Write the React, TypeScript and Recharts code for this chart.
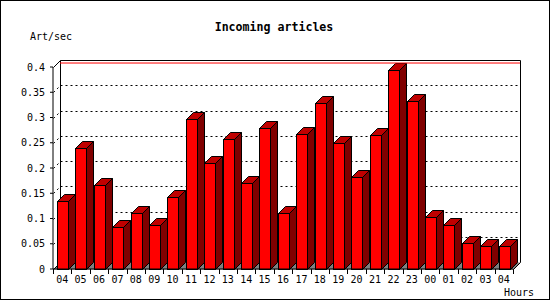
import { BarChart, Bar, XAxis, YAxis, CartesianGrid, ReferenceArea, ReferenceLine } from 'recharts'

const hours = ['04', '05', '06', '07', '08', '09', '10', '11', '12', '13', '14', '15', '16', '17', '18', '19', '20', '21', '22', '23', '00', '01', '02', '03', '04']
const artPerSec = [0.135, 0.24, 0.166, 0.083, 0.11, 0.088, 0.142, 0.297, 0.21, 0.257, 0.17, 0.279, 0.11, 0.267, 0.328, 0.249, 0.182, 0.265, 0.394, 0.332, 0.102, 0.088, 0.051, 0.045, 0.045]
const yTicks = [0, 0.05, 0.1, 0.15, 0.2, 0.25, 0.3, 0.35, 0.4]

const data = hours.map((hour, i) => ({ hour, rate: artPerSec[i] }))
const peak = Math.max(...artPerSec)

const D = 7 // depth of the 3d effect
const MONO = '"DejaVu Sans Mono", monospace'
const px = (v: number) => Math.round(v) + 0.5

// eslint-disable-next-line @typescript-eslint/no-explicit-any
function Bar3D(props: any) {
  const { x, y, width, height } = props
  if (!height) return <g />
  const x0 = px(x)
  const y0 = px(y)
  const x1 = x0 + Math.round(width)
  const y1 = px(y + height)
  return (
    <g stroke="#000" strokeWidth={1}>
      <polygon points={`${x0},${y0} ${x0 + D},${y0 - D} ${x1 + D},${y0 - D} ${x1},${y0}`} fill="#c00000" />
      <polygon points={`${x1},${y0} ${x1 + D},${y0 - D} ${x1 + D},${y1 - D} ${x1},${y1}`} fill="#800000" />
      <rect x={x0} y={y0} width={x1 - x0} height={y1 - y0} fill="#ff0000" />
    </g>
  )
}

// back walls + floor
// eslint-disable-next-line @typescript-eslint/no-explicit-any
function Walls(props: any) {
  const { x, y, width, height } = props
  const l = px(x)
  const t = px(Math.min(y, y + height))
  const r = px(x + width)
  const b = px(Math.max(y, y + height))
  return (
    <g>
      <polygon points={`${l},${b} ${l + D},${b - D} ${r + D},${b - D} ${r},${b}`} fill="#808080" />
      <polyline points={`${l},${t} ${l + D},${t - D} ${r + D},${t - D} ${r + D},${b - D} ${r},${b}`} fill="none" stroke="#000" />
      <line x1={l + D} y1={t - D} x2={l + D} y2={b - D} stroke="#000" />
      <line x1={l} y1={b} x2={l + D} y2={b - D} stroke="#000" />
    </g>
  )
}

// eslint-disable-next-line @typescript-eslint/no-explicit-any
function GridLine(props: any) {
  const { x1, y1, x2, y, height } = props
  if (y !== undefined && height !== undefined && (y1 > y + height - 1 || y1 < y + 1)) return <g />
  const gy = px(y1)
  return (
    <g stroke="#000" strokeDasharray="2 3" fill="none">
      <line x1={px(x1)} y1={gy} x2={px(x1) + D} y2={gy - D} />
      <line x1={px(x1) + D} y1={gy - D} x2={px(x2) + D} y2={gy - D} />
    </g>
  )
}

// eslint-disable-next-line @typescript-eslint/no-explicit-any
function HourTick(props: any) {
  const { x, y, payload, index, visibleTicksCount, width } = props
  const half = payload?.offset || width / visibleTicksCount / 2
  const axisY = y - 6
  const left = px(x - half)
  const right = px(x + half)
  return (
    <g>
      <line x1={left} y1={axisY} x2={left} y2={axisY + 5} stroke="#000" />
      {index === visibleTicksCount - 1 && <line x1={right} y1={axisY} x2={right} y2={axisY + 5} stroke="#000" />}
      <text x={x} y={y + 1} dy="0.71em" textAnchor="middle" fontSize={10} fontFamily={MONO} fill="#000">
        {payload.value}
      </text>
    </g>
  )
}

export default function App() {
  return (
    <div style={{ position: 'absolute', left: 0, top: 0, width: 550, height: 300, background: '#fff' }}>
      <BarChart width={550} height={300} data={data} margin={{ top: 67, right: 37, left: 0, bottom: 0 }}>
        <ReferenceArea y1={0} y2={0.4} shape={Walls} ifOverflow="visible" />
        <CartesianGrid horizontal={GridLine} vertical={false} />
        {/* max value line, pushed back onto the rear wall */}
        <ReferenceLine y={peak} stroke="#ff0000" strokeWidth={1} ifOverflow="visible" transform={`translate(${D},${-D})`} />
        <XAxis
          dataKey="hour"
          height={31}
          tickSize={4}
          tickMargin={2}
          tickLine={false}
          axisLine={{ stroke: '#000' }}
          interval={0}
          tick={HourTick}
        />
        <YAxis
          type="number"
          width={53}
          domain={[0, 0.4]}
          ticks={yTicks}
          interval={0}
          tickFormatter={(v: number) => String(v)}
          tickSize={3}
          tickMargin={5}
          axisLine={{ stroke: '#000' }}
          tickLine={{ stroke: '#000' }}
          tick={{ fill: '#000', fontSize: 10, fontFamily: MONO }}
        />
        <Bar dataKey="rate" barSize={11} shape={Bar3D} isAnimationActive={false} />
      </BarChart>
      <svg width={550} height={300} style={{ position: 'absolute', left: 0, top: 0, pointerEvents: 'none' }}>
        <rect x={0.5} y={0.5} width={549} height={299} fill="none" stroke="#000" />
        <text x={274} y={31} textAnchor="middle" fontSize={11.6} fontWeight="bold" fontFamily={MONO}>Incoming articles</text>
        <text x={30} y={40} fontSize={10} fontFamily={MONO}>Art/sec</text>
        <text x={504} y={296} fontSize={10} fontFamily={MONO}>Hours</text>
      </svg>
    </div>
  )
}
